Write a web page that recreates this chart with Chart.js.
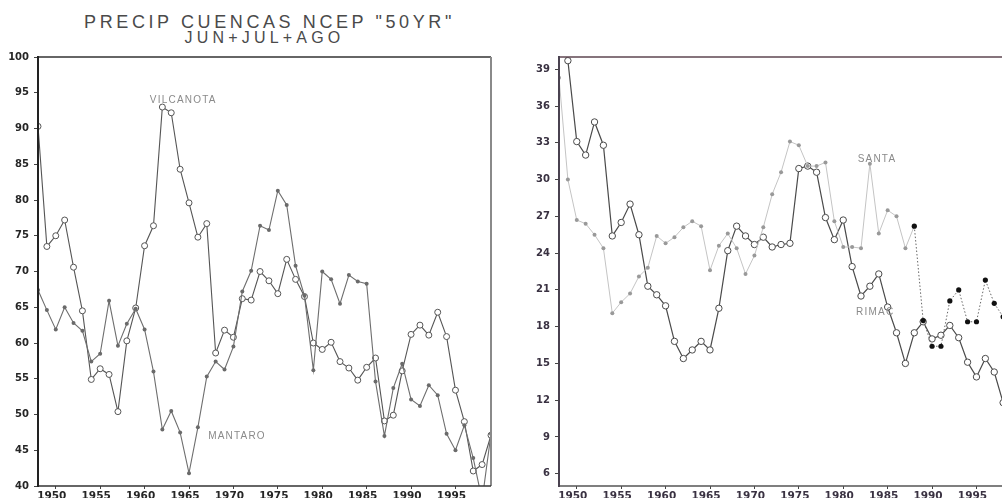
<!DOCTYPE html>
<html><head><meta charset="utf-8">
<script src="https://cdn.jsdelivr.net/npm/chart.js@4/dist/chart.umd.min.js"></script>
<style>
html,body{margin:0;padding:0;background:#fff;overflow:hidden;width:1002px;height:498px;position:relative;}
#wrapL{position:absolute;left:0;top:0;width:500px;height:498px;}
#wrapR{position:absolute;left:502px;top:0;width:520px;height:498px;}
.t{position:absolute;font-family:"Liberation Sans",Arial,sans-serif;color:#4a4a4a;white-space:nowrap;text-align:center;}
</style></head><body>
<div class="t" style="left:0;width:539px;top:13px;font-size:18px;line-height:18px;letter-spacing:3.6px;">PRECIP CUENCAS NCEP "50YR"</div>
<div class="t" style="left:0;width:529px;top:30px;font-size:16px;line-height:16px;letter-spacing:4.2px;">JUN+JUL+AGO</div>
<div id="wrapL"><canvas id="cL"></canvas></div>
<div id="wrapR"><canvas id="cR"></canvas></div>
<script>
// ---- data ----
const years = [1948,1949,1950,1951,1952,1953,1954,1955,1956,1957,1958,1959,1960,1961,1962,1963,1964,1965,1966,1967,1968,1969,1970,1971,1972,1973,1974,1975,1976,1977,1978,1979,1980,1981,1982,1983,1984,1985,1986,1987,1988,1989,1990,1991,1992,1993,1994,1995,1996,1997,1998,1999];
const vilcanota = [90.3,73.5,75.0,77.2,70.6,64.5,54.9,56.4,55.6,50.4,60.3,64.9,73.6,76.4,93.0,92.2,84.3,79.6,74.8,76.7,58.6,61.8,60.8,66.2,66.0,70.0,68.7,66.9,71.7,68.9,66.5,60.0,59.1,60.1,57.4,56.5,54.8,56.6,57.9,49.1,49.9,56.1,61.2,62.5,61.1,64.3,60.9,53.4,49.0,42.1,43.0,47.1];
const mantaro = [67.4,64.6,61.9,65.0,62.8,61.7,57.4,58.5,65.9,59.6,62.7,64.8,61.9,56.0,47.9,50.5,47.5,41.8,48.2,55.3,57.4,56.3,59.5,67.2,70.1,76.4,75.8,81.3,79.3,70.8,66.6,56.2,70.0,68.9,65.5,69.5,68.6,68.3,54.6,47.0,53.7,57.1,52.1,51.2,54.1,52.7,47.3,45.0,48.5,43.9,38.0,47.3];
const rimac = [41.5,39.7,33.1,32.0,34.7,32.8,25.4,26.5,28.0,25.5,21.3,20.6,19.7,16.8,15.4,16.1,16.8,16.1,19.5,24.2,26.2,25.4,24.7,25.3,24.5,24.7,24.8,30.9,31.1,30.6,26.9,25.1,26.7,22.9,20.5,21.3,22.3,19.6,17.5,15.0,17.5,18.4,17.0,17.3,18.1,17.1,15.1,13.9,15.4,14.3,11.8,null];
const santa = [38.3,30.0,26.7,26.4,25.5,24.4,19.1,20.0,20.7,22.1,22.8,25.4,24.8,25.3,26.1,26.6,26.2,22.6,24.6,25.6,24.4,22.3,23.8,26.1,28.8,30.6,33.1,32.8,31.1,31.1,31.4,26.6,24.5,24.5,24.4,31.3,25.6,27.5,27.0,24.4,26.2,18.5,16.4,16.4,20.1,21.0,18.4,18.4,21.8,19.9,18.8,null];
const santaDarkFrom = 1988;
const xTickLabels = [1950,1955,1960,1965,1970,1975,1980,1985,1990,1995];
const yTicksLeft = [40,45,50,55,60,65,70,75,80,85,90,95,100];
const yTicksRight = [6,9,12,15,18,21,24,27,30,33,36,39];
const seriesNames = {v:'VILCANOTA', m:'MANTARO', s:'SANTA', r:'RIMAC'};

const pts = arr => years.map((yr,i)=>({x:yr, y:arr[i]}));

const framePlugin = {
  id:'frame',
  afterDatasetsDraw(chart, a, o){
    const {left,right,top,bottom} = chart.chartArea; const ctx = chart.ctx;
    const seg=(x1,y1,x2,y2,c,w)=>{ctx.beginPath();ctx.strokeStyle=c;ctx.lineWidth=w;ctx.moveTo(x1,y1);ctx.lineTo(x2,y2);ctx.stroke();};
    ctx.save();
    seg(left,top,right,top,o.top,o.topW);
    seg(right,top,right,bottom,o.right,o.rightW);
    seg(left,bottom,right,bottom,o.bottom,o.bottomW);
    seg(left,top-1,left,bottom+1,o.left,o.leftW);
    ctx.restore();
  }
};
const labelPlugin = {
  id:'lbls',
  afterDatasetsDraw(chart, a, o){
    const {ctx, scales:{x,y}} = chart;
    ctx.save();
    ctx.font = o.font; ctx.fillStyle = o.color;
    try { ctx.letterSpacing = o.spacing; } catch(e) {}
    ctx.textAlign='center'; ctx.textBaseline='middle';
    (o.items||[]).forEach(it => ctx.fillText(it.text, x.getPixelForValue(it.x), y.getPixelForValue(it.y)));
    ctx.restore();
  }
};

function xScale(color){
  return {
    type:'linear', min:1948, max:1999,
    afterBuildTicks: s => { s.ticks = xTickLabels.map(v=>({value:v})); },
    afterFit: s => { s.height = 12; },
    grid:{display:true, drawOnChartArea:false, drawTicks:true, tickLength:3, tickColor:'#444', tickWidth:1},
    border:{display:false},
    ticks:{autoSkip:false, maxRotation:0, minRotation:0, padding:1, labelOffset:-4, color:color,
      font:{family:'DejaVu Sans', weight:'bold', size:10.5}, callback:v=>String(v)}
  };
}
function yScale(min,max,ticks,width,color){
  return {
    type:'linear', min:min, max:max,
    afterBuildTicks: s => { s.ticks = ticks.map(v=>({value:v})); },
    afterFit: s => { s.width = width; },
    grid:{display:true, drawOnChartArea:false, drawTicks:true, tickLength:4, tickColor:'#444', tickWidth:1},
    border:{display:false},
    ticks:{autoSkip:false, padding:5, color:color, font:{family:'DejaVu Sans', weight:'bold', size:10}, callback:v=>String(v)}
  };
}

new Chart(document.getElementById('cL'), {
  type:'line',
  data:{datasets:[
    {label:seriesNames.m, data:pts(mantaro), borderColor:'#6e6e6e', borderWidth:1.1, pointRadius:2, pointBackgroundColor:'#6a6a6a', pointBorderColor:'#6a6a6a', pointBorderWidth:0, tension:0},
    {label:seriesNames.v, data:pts(vilcanota), borderColor:'#555', borderWidth:1.1, pointRadius:3, pointBackgroundColor:'#fff', pointBorderColor:'#555', pointBorderWidth:1, tension:0}
  ]},
  options:{
    responsive:true, maintainAspectRatio:false, animation:false,
    layout:{padding:{top:57, right:9, left:0, bottom:0}},
    scales:{x:xScale('#262626'), y:yScale(40,100,yTicksLeft,38,'#262626')},
    plugins:{legend:{display:false}, tooltip:{enabled:false},
      frame:{top:'#333', topW:1.5, right:'#8a8a8a', rightW:2, bottom:'#333', bottomW:1.5, left:'#222', leftW:2},
      lbls:{font:'10px "Liberation Sans", Arial, sans-serif', color:'#8a8a8a', spacing:'1.2px',
        items:[{text:seriesNames.v, x:1964.35, y:94.0},{text:seriesNames.m, x:1970.4, y:46.9}]}
    }
  },
  plugins:[framePlugin, labelPlugin]
});

new Chart(document.getElementById('cR'), {
  type:'line',
  data:{datasets:[
    {label:seriesNames.s, data:pts(santa), borderColor:'#c4c4c4', borderWidth:1, tension:0,
      segment:{borderColor:c=>c.p0.parsed.x>=santaDarkFrom?'#666':undefined, borderDash:c=>c.p0.parsed.x>=santaDarkFrom?[1.5,2]:undefined},
      pointRadius:c=>(c.parsed && c.parsed.x>=santaDarkFrom)?2.6:2,
      pointBackgroundColor:c=>(c.parsed && c.parsed.x>=santaDarkFrom)?'#111':'#999',
      pointBorderColor:c=>(c.parsed && c.parsed.x>=santaDarkFrom)?'#111':'#999', pointBorderWidth:0},
    {label:seriesNames.r, data:pts(rimac), borderColor:'#4a4a4a', borderWidth:1.2, pointRadius:3.2, pointBackgroundColor:'#fff', pointBorderColor:'#4a4a4a', pointBorderWidth:1, tension:0}
  ]},
  options:{
    responsive:true, maintainAspectRatio:false, animation:false,
    layout:{padding:{top:57, right:10, left:0, bottom:0}},
    scales:{x:xScale('#3a3242'), y:yScale(5,40,yTicksRight,57,'#3a3242')},
    plugins:{legend:{display:false}, tooltip:{enabled:false},
      frame:{top:'#5e4650', topW:1.5, right:'#8a8a8a', rightW:2, bottom:'#555', bottomW:1.5, left:'#4a4250', leftW:2},
      lbls:{font:'10px "Liberation Sans", Arial, sans-serif', color:'#8a8a8a', spacing:'1.2px',
        items:[{text:seriesNames.s, x:1983.8, y:31.65},{text:seriesNames.r, x:1983.6, y:19.14}]}
    }
  },
  plugins:[framePlugin, labelPlugin]
});
</script>
</body></html>
